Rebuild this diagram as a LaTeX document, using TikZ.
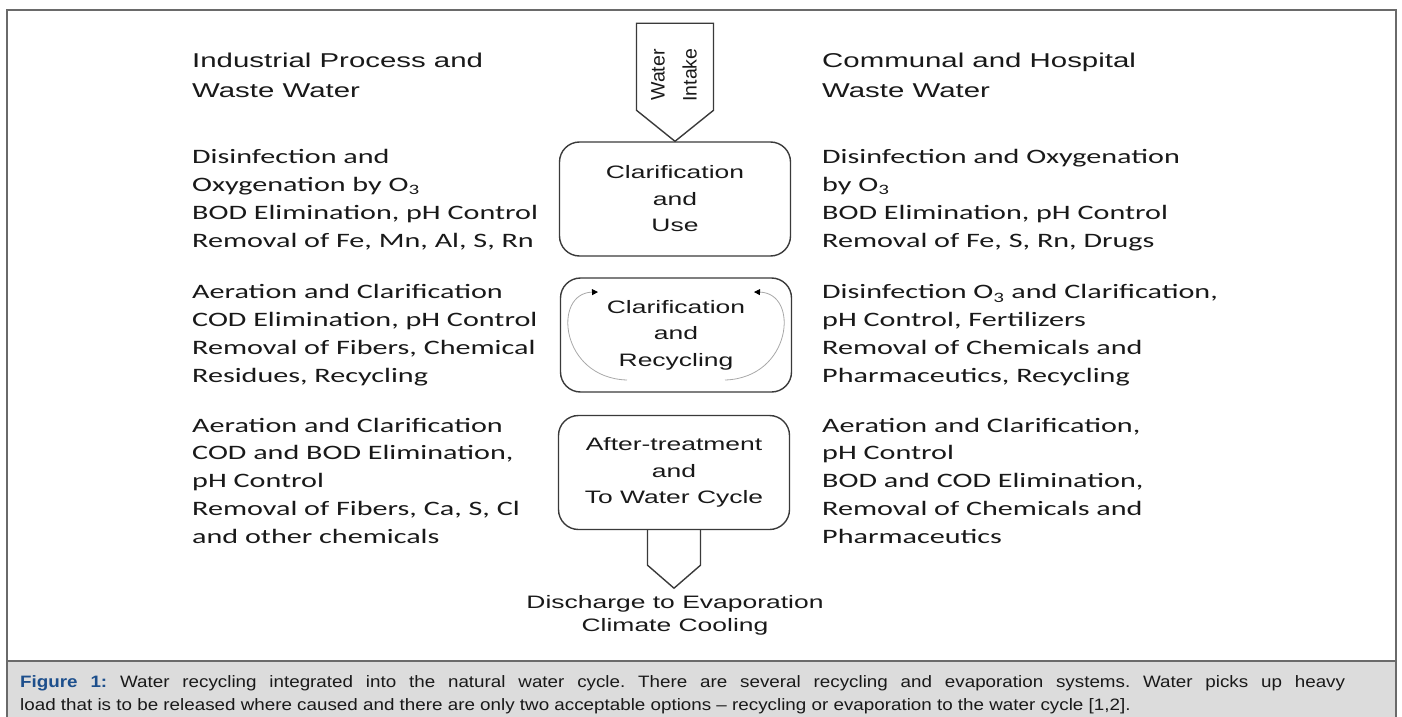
\documentclass[tikz,border=0pt]{standalone}
\usepackage{fontspec}
\usepackage{tikz}
\usetikzlibrary{arrows.meta}

\newfontfamily\headfont[FakeStretch=1.47]{Liberation Sans}
\newfontfamily\bodyfont[FakeStretch=1.47]{Carlito}
\newfontfamily\capfont[FakeStretch=1.14]{Liberation Sans}
\newfontfamily\tagfont{Liberation Sans}

\definecolor{inkgray}{HTML}{3A3A3A}
\definecolor{framegray}{HTML}{6A6A6A}
\definecolor{capgray}{HTML}{DCDCDC}
\definecolor{capblue}{HTML}{1D4F8C}
\definecolor{cyclegray}{HTML}{A8A8A8}

\frenchspacing

\begin{document}
\begin{tikzpicture}[x=1pt, y=-1pt,
        stage/.style={draw=inkgray, line width=1.4pt, rounded corners=20pt,
            minimum width=231pt, minimum height=114pt, align=center, text=black!90,
            font=\headfont\fontsize{18}{26.5}\selectfont},
        side/.style={anchor=base west, align=left, inner sep=0pt, text=black!90,
            font=\bodyfont\fontsize{20.5}{27.7}\selectfont},
        head/.style={anchor=base west, align=left, inner sep=0pt, text=black!90,
            font=\headfont\fontsize{20}{30}\selectfont},
        cycleline/.style={draw=cyclegray, line width=0.8pt,
            -{Triangle[length=6pt, width=6pt, color=black]}}]
    \useasboundingbox (0,0) rectangle (1402,717);

    % frame and caption strip
    \fill [capgray] (7,661) rectangle (1396,717);
    \draw [framegray, line width=1.2pt] (7,717) -- (7,10) -- (1396,10) -- (1396,717);
    \draw [framegray, line width=1.2pt] (7,661) -- (1396,661);
    \node (caption) at (20,710) [anchor=base west, align=left, inner sep=0pt,
        text=black!90, font=\capfont\fontsize{16.5}{23}\selectfont]
        {\makebox[1325pt][s]{{\bfseries\color{capblue}Figure 1:} Water recycling integrated into the natural water cycle. There are several recycling and evaporation systems. Water picks up heavy}\\
        load that is to be released where caused and there are only two acceptable options \textendash{} recycling or evaporation to the water cycle [1,2].};

    % centre column
    \node (use) at (675,199) [stage] {Clarification\\and\\Use};
    \node (recycle) at (676,335) [stage] {Clarification\\and\\Recycling};
    \node (after) at (674,472.5) [stage] {After-treatment\\and\\To Water Cycle};

    \draw [inkgray, line width=1.4pt] (use.north) -- ++(-38.5,-31) -- ++(0,-87)
        -- ++(77,0) -- ++(0,87) -- cycle;
    \node (intake) at (674,75) [rotate=90, align=center, text=black!90,
        font=\tagfont\fontsize{19.5}{32}\selectfont] {Water\\Intake};

    \draw [inkgray, line width=1.4pt] (after.south) ++(-26.5,0) -- ++(0,35)
        -- ++(26.5,23) -- ++(26.5,-23) -- ++(0,-35);
    \node (discharge) at (675,631) [anchor=base, align=center, inner sep=0pt,
        text=black!90, font=\headfont\fontsize{18}{23}\selectfont]
        {Discharge to Evaporation\\Climate Cooling};

    \begin{scope}[shift={(recycle.center)}]
        \draw [cycleline] (-49,45) .. controls (-116,43) and (-124,-42) .. (-78,-43);
        \draw [cycleline] (49,45) .. controls (116,43) and (124,-42) .. (78,-43);
    \end{scope}

    % industrial side (anchored at the last line)
    \node (indhead) at (192,97) [head] {Industrial Process and\\Waste Water};
    \node (ind1) at (192,247) [side] {Disinfection and\\Oxygenation by O\textsubscript{3}\\BOD Elimination, pH Control\\Removal of Fe, Mn, Al, S, Rn};
    \node (ind2) at (192,382) [side] {Aeration and Clarification\\COD Elimination, pH Control\\Removal of Fibers, Chemical\\Residues, Recycling};
    \node (ind3) at (192,543) [side] {Aeration and Clarification\\COD and BOD Elimination,\\pH Control\\Removal of Fibers, Ca, S, Cl\\and other chemicals};

    % communal side
    \node (comhead) at (822,97) [head] {Communal and Hospital\\Waste Water};
    \node (com1) at (822,247) [side] {Disinfection and Oxygenation\\by O\textsubscript{3}\\BOD Elimination, pH Control\\Removal of Fe, S, Rn, Drugs};
    \node (com2) at (822,382) [side] {Disinfection O\textsubscript{3} and Clarification,\\pH Control, Fertilizers\\Removal of Chemicals and\\Pharmaceutics, Recycling};
    \node (com3) at (822,543) [side] {Aeration and Clarification,\\pH Control\\BOD and COD Elimination,\\Removal of Chemicals and\\Pharmaceutics};
\end{tikzpicture}
\end{document}
